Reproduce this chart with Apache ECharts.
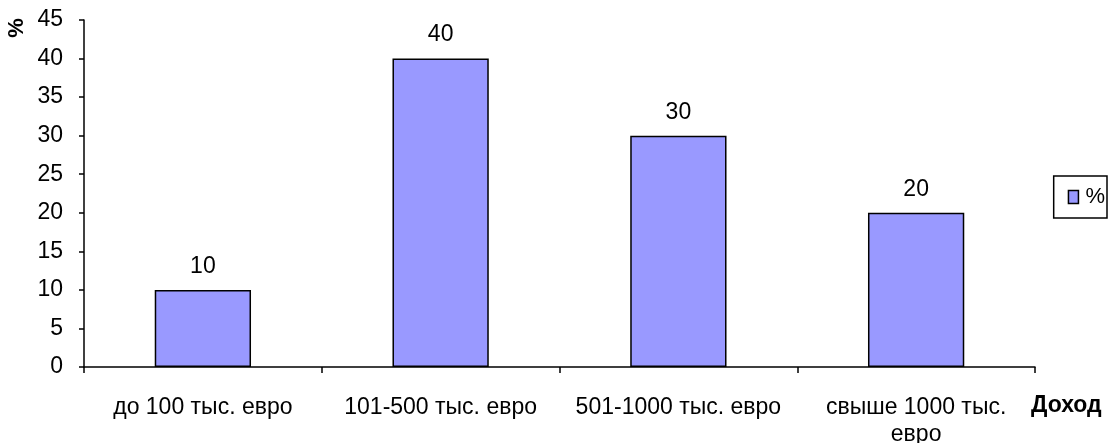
<!DOCTYPE html>
<html><head><meta charset="utf-8">
<script src="https://cdn.jsdelivr.net/npm/echarts@6/dist/echarts.min.js"></script>
<style>html,body{margin:0;padding:0;background:#fff}#c{width:1115px;height:443px}</style>
</head><body><div id="c"></div>
<script>
const categories = ["до 100 тыс. евро", "101-500 тыс. евро", "501-1000 тыс. евро", "свыше 1000 тыс.\nевро"];
const values = [10, 40, 30, 20];
const seriesName = "%";
const yAxisName = "%";
const xAxisName = "Доход";

const chart = echarts.init(document.getElementById('c'), null, {renderer: 'canvas'});
const FONT = "Liberation Sans, Arial, sans-serif";
chart.setOption({
  animation: false,
  textStyle: {fontFamily: FONT},
  grid: {left: 84, right: 80, top: 20, bottom: 76, containLabel: false, outerBoundsMode: 'none'},
  legend: {
    data: [seriesName], right: 8, top: 176, orient: 'vertical',
    borderColor: '#000', borderWidth: 1.5, padding: [10, 2, 10, 14],
    icon: 'rect', itemWidth: 10, itemHeight: 13, itemGap: 0,
    itemStyle: {borderColor: '#000', borderWidth: 1.5},
    textStyle: {fontSize: 22, color: '#000', padding: [0, 0, 0, 2]}
  },
  graphic: [{
    type: 'text', x: 17, y: 28, rotation: Math.PI / 2,
    style: {text: yAxisName, fontSize: 22, fontWeight: 'bold', fill: '#000', fontFamily: FONT,
            align: 'center', verticalAlign: 'middle'}
  }],
  xAxis: {
    type: 'category', data: categories,
    name: xAxisName, nameLocation: 'end', nameGap: -4,
    nameTextStyle: {fontSize: 23, fontWeight: 'bold', color: '#000', align: 'left', verticalAlign: 'top', padding: [27, 0, 0, 0]},
    axisLine: {lineStyle: {color: '#000', width: 1.5}},
    axisTick: {show: true, length: 6, lineStyle: {color: '#000', width: 1.5}, alignWithLabel: false},
    axisLabel: {fontSize: 23, color: '#000', margin: 27, lineHeight: 27, interval: 0}
  },
  yAxis: {
    type: 'value', min: 0, max: 45, interval: 5,
    axisLine: {show: true, lineStyle: {color: '#000', width: 1.5}},
    axisTick: {show: true, length: 5, lineStyle: {color: '#000', width: 1.5}},
    axisLabel: {fontSize: 23, color: '#000', margin: 21},
    splitLine: {show: false}
  },
  series: [{
    name: seriesName, type: 'bar', data: values, barWidth: '40.5%',
    itemStyle: {color: '#9999FF', borderColor: '#000', borderWidth: 1.5},
    label: {show: true, position: 'top', distance: 12, fontSize: 23, color: '#000'}
  }]
});
</script></body></html>
